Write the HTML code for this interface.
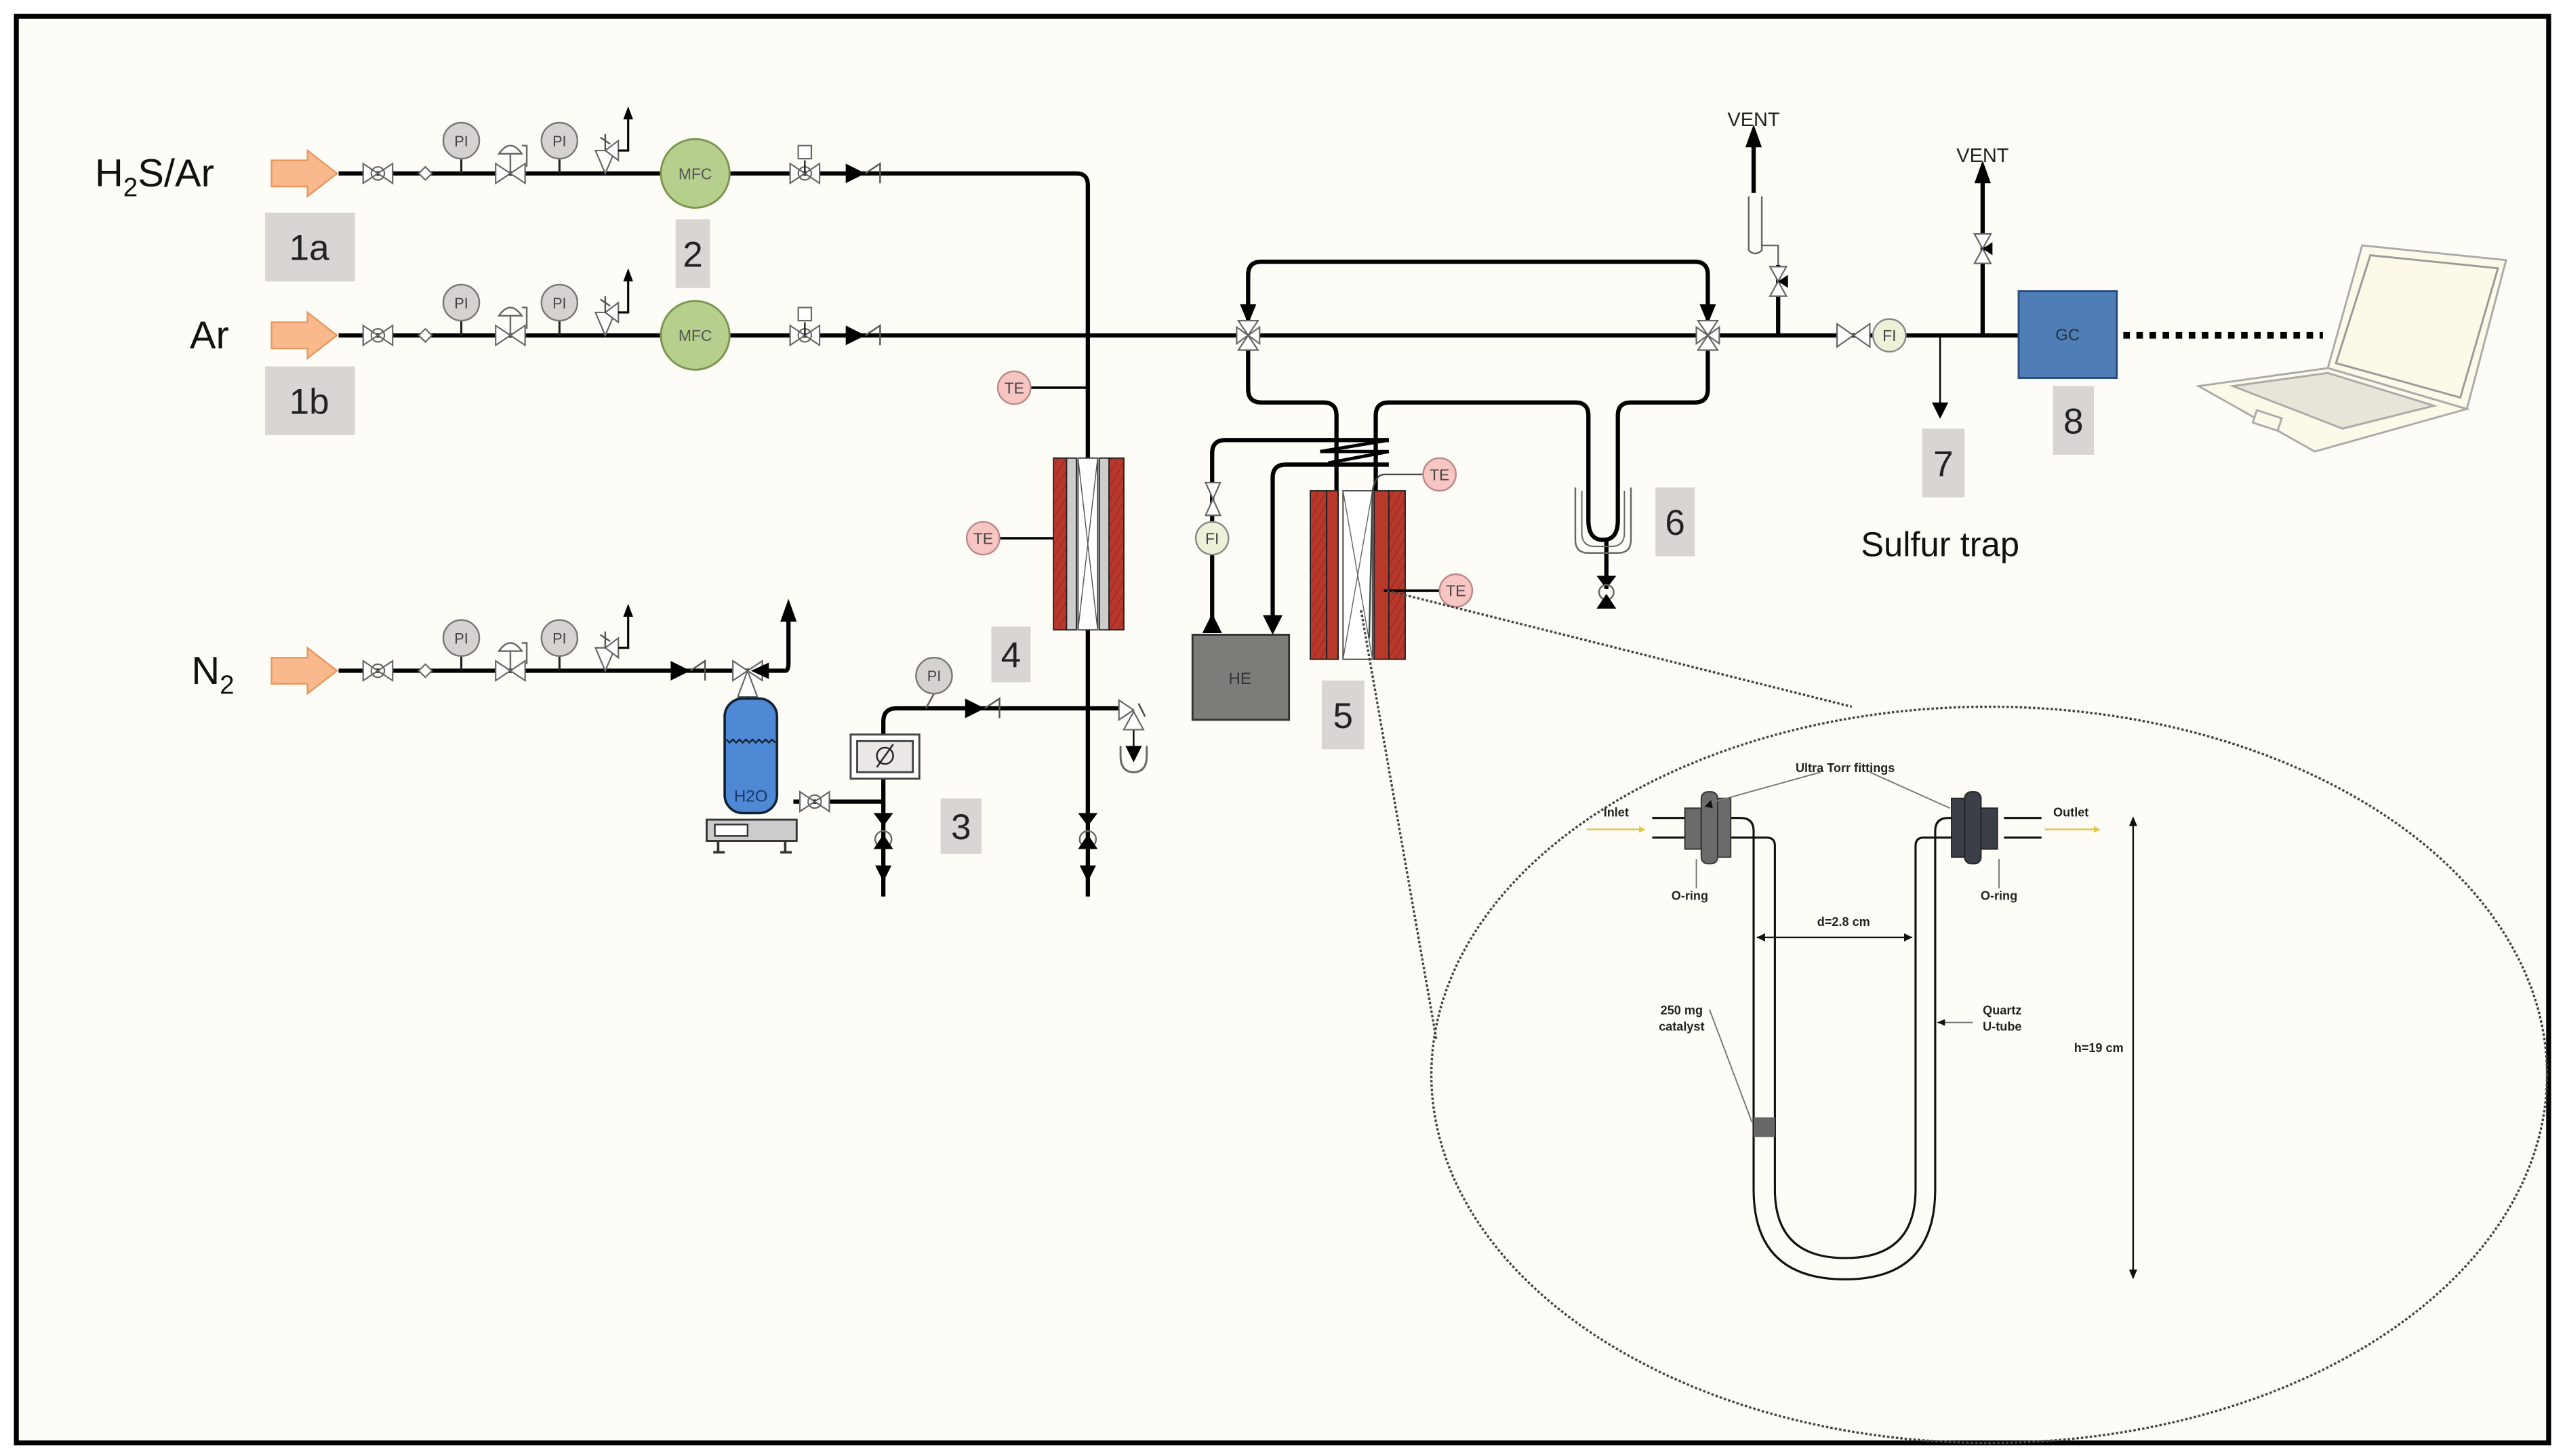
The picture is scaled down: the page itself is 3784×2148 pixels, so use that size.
<!DOCTYPE html>
<html><head><meta charset="utf-8"><style>
html,body{margin:0;padding:0;background:#fff}
svg{display:block}
text{font-family:"Liberation Sans",sans-serif}
</style></head><body>
<svg width="3784" height="2148" viewBox="0 0 1568 890" preserveAspectRatio="none" xmlns="http://www.w3.org/2000/svg">
<defs>
<g id="gv"><polygon points="-9,-6 9,6 9,-6 -9,6" fill="#fff" stroke="#666" stroke-width="0.9"/><circle r="4" fill="none" stroke="#666" stroke-width="0.9"/></g>
<g id="gvv"><polygon points="-6,-9 6,9 -6,9 6,-9" fill="#fff" stroke="#666" stroke-width="0.9"/></g>
<g id="chk"><polygon points="0,-6 12,0 0,6" fill="#000"/><path d="M12,0 L21,-6 V6" fill="none" stroke="#555" stroke-width="1"/></g>
<g id="dia"><polygon points="-4,0 0,-4 4,0 0,4" fill="#fff" stroke="#666" stroke-width="0.9"/></g>
<g id="pi"><line x1="0" y1="0" x2="0" y2="-9" stroke="#222" stroke-width="1.3"/><circle cy="-20" r="11" fill="#d6d2cf" stroke="#777" stroke-width="1"/><text y="-16.5" font-size="9" text-anchor="middle" fill="#444">PI</text></g>
<g id="reg"><polygon points="-9,-6 9,6 9,-6 -9,6" fill="#fff" stroke="#666" stroke-width="0.9"/><line x1="0" y1="0" x2="0" y2="-12" stroke="#666"/><path d="M-7,-12 Q0,-22 7,-12 Z" fill="#fff" stroke="#666"/><path d="M7,-17 H10 V-4" fill="none" stroke="#666"/></g>
<g id="rel"><polygon points="-6,-14 6,-14 0,0" fill="#fff" stroke="#666" stroke-width="0.9"/><polygon points="0,-14 8,-20 8,-8" fill="#fff" stroke="#666" stroke-width="0.9"/><path d="M-3,-22 L3,-18 M0,-24 V-14" stroke="#555"/><path d="M8,-14 H14 V-34" fill="none" stroke="#000" stroke-width="1.3"/><polygon points="11,-33 14,-41 17,-33" fill="#000"/></g>
<g id="orange"><polygon points="0,-8 22,-8 22,-14 40,0 22,14 22,8 0,8" fill="#f9b98c" stroke="#e8975e" stroke-width="1"/></g>
<g id="mfc"><circle r="21" fill="#b6cf8c" stroke="#7a9550" stroke-width="1.2"/><text y="3.5" font-size="9.5" text-anchor="middle" fill="#555">MFC</text></g>
<g id="av"><polygon points="-9,-6 9,6 9,-6 -9,6" fill="#fff" stroke="#666" stroke-width="0.9"/><circle r="4" fill="none" stroke="#666" stroke-width="0.9"/><line x1="0" y1="0" x2="0" y2="-8" stroke="#222"/><rect x="-4" y="-17" width="8" height="8" fill="#fff" stroke="#666" stroke-width="0.9"/></g>
<g id="tv"><polygon points="-6,-9 6,-9 0,0" fill="#fff" stroke="#666" stroke-width="0.9"/><polygon points="-6,9 6,9 0,0" fill="#fff" stroke="#666" stroke-width="0.9"/><polygon points="0,0 -7,-5 -7,5" fill="#fff" stroke="#666" stroke-width="0.9"/><polygon points="0,0 7,-5 7,5" fill="#fff" stroke="#666" stroke-width="0.9"/></g>
<g id="drain"><polygon points="-6,-16 6,-16 0,-8" fill="#000"/><circle r="5" fill="none" stroke="#666"/><polygon points="-6,6 6,6 0,-3" fill="#000"/><line x1="0" y1="0" x2="0" y2="24" stroke="#000" stroke-width="2"/><polygon points="-5,16 5,16 0,26" fill="#000"/></g>
<g id="te"><circle r="10" fill="#f7c6c3" stroke="#b88" stroke-width="1"/><text y="3.5" font-size="9.5" text-anchor="middle" fill="#444">TE</text></g>
<g id="fi"><circle r="10" fill="#eef0d8" stroke="#888" stroke-width="1"/><text y="3.5" font-size="9.5" text-anchor="middle" fill="#444">FI</text></g>
<g id="cv"><polygon points="-5,-9 5,-9 0,0" fill="#fff" stroke="#666" stroke-width="0.9"/><polygon points="-5,9 5,9 0,0" fill="#fff" stroke="#666" stroke-width="0.9"/><polygon points="0,0 6,-4 6,4" fill="#000"/></g>
<pattern id="hatch" width="4" height="4" patternUnits="userSpaceOnUse" patternTransform="rotate(30)"><rect width="4" height="4" fill="#b8392b"/><line x1="0" y1="0" x2="0" y2="4" stroke="#9a2c20" stroke-width="1.2"/></pattern>
</defs>
<rect width="1568" height="890" fill="#fff"/>
<rect x="10" y="10" width="1548" height="872" fill="#fdfcf6" stroke="#000" stroke-width="3"/>

<!-- main pipes -->
<g fill="none" stroke="#000" stroke-width="2.6">
<path d="M207,106 H658 Q665,106 665,113 V548"/>
<path d="M207,205 H1234"/>
<path d="M207,410 H470"/>
<path d="M470,410 H480 Q482,410 482,405 V378"/>
<path d="M763,205 V168 Q763,160 771,160 H1036 Q1044,160 1044,168 V205"/>
<path d="M763,205 V238 Q763,246 771,246 H809 Q817,246 817,254 V300"/>
<path d="M841,300 V254 Q841,246 849,246 H963 Q971,246 971,254 V318 Q971,330 980,330 Q989,330 989,318 V254 Q989,246 997,246 H1036 Q1044,246 1044,238 V205"/>
<path d="M982,330 V360"/>
<path d="M849,269 H749 Q741,269 741,277 V387"/>
<path d="M849,284 H786 Q778,284 778,292 V385"/>
<path d="M485,490 H540"/>
<path d="M540,476 V548"/>
<path d="M540,449 V441 Q540,433 548,433 H690"/>
<path d="M1072,88 V118"/>
<path d="M1087,162 V205"/>
<path d="M1212,110 V205"/>
</g>
<!-- heat exchanger coil zigzags -->
<g stroke="#000" stroke-width="2" fill="none">
<path d="M807,276 H849 M807,276 L849,269 M812,283 L849,276"/>
</g>
<!-- arrows -->
<g fill="#000">
<polygon points="758,186 768,186 763,198"/>
<polygon points="1039,186 1049,186 1044,198"/>
<polygon points="735,387 747,387 741,375"/>
<polygon points="772,376 784,376 778,388"/>
<polygon points="1067,90 1077,90 1072,76"/>
<polygon points="1207,112 1217,112 1212,98"/>
<polygon points="477,380 487,380 482,366"/>
<polygon points="1181,246 1191,246 1186,256"/>
<polygon points="688,456 698,456 693,466"/>
</g>
<path d="M1186,205 V248" stroke="#000" stroke-width="1"/>
<path d="M693,436 V458" stroke="#000" stroke-width="1"/>
<path d="M685,456 V462 Q685,472 693,472 Q701,472 701,462 V456" fill="none" stroke="#666" stroke-width="1.2"/>
<!-- vent U tube -->
<path d="M1069,120 V153 Q1073,157 1077,153 V120" fill="none" stroke="#666" stroke-width="1"/>
<path d="M1077,150 H1087 V162" fill="none" stroke="#666" stroke-width="1"/>

<!-- orange arrows -->
<use href="#orange" x="166" y="106"/><use href="#orange" x="166" y="205"/><use href="#orange" x="166" y="410"/>
<text x="58" y="114" font-size="24" fill="#111">H<tspan font-size="16" dy="6">2</tspan><tspan dy="-6">S/Ar</tspan></text>
<text x="116" y="213" font-size="24" fill="#111">Ar</text>
<text x="117" y="418" font-size="24" fill="#111">N<tspan font-size="16" dy="6">2</tspan></text>

<!-- line components -->
<g>
<use href="#gv" x="231" y="106"/><use href="#dia" x="260" y="106"/><use href="#pi" x="282" y="106"/><use href="#reg" x="312" y="106"/><use href="#pi" x="342" y="106"/><use href="#rel" x="370" y="106"/><use href="#mfc" x="425" y="106"/><use href="#av" x="492" y="106"/><use href="#chk" x="517" y="106"/>
<use href="#gv" x="231" y="205"/><use href="#dia" x="260" y="205"/><use href="#pi" x="282" y="205"/><use href="#reg" x="312" y="205"/><use href="#pi" x="342" y="205"/><use href="#rel" x="370" y="205"/><use href="#mfc" x="425" y="205"/><use href="#av" x="492" y="205"/><use href="#chk" x="517" y="205"/>
<use href="#gv" x="231" y="410"/><use href="#dia" x="260" y="410"/><use href="#pi" x="282" y="410"/><use href="#reg" x="312" y="410"/><use href="#pi" x="342" y="410"/><use href="#rel" x="370" y="410"/><use href="#chk" x="410" y="410"/>
<use href="#tv" x="763" y="205"/><use href="#tv" x="1044" y="205"/>
<use href="#cv" x="1087" y="172"/><use href="#cv" x="1212" y="152"/>
<use href="#drain" x="540" y="513"/><use href="#drain" x="665" y="513"/>
<use href="#chk" x="590" y="433"/>
</g>
<!-- N2 3-way valve -->
<polygon points="448,404 448,416 466,404 466,416" fill="#fff" stroke="#666" stroke-width="0.9"/>
<polygon points="451,426 463,426 457,410" fill="#fff" stroke="#666" stroke-width="0.9"/>
<polygon points="470,405 470,415 459,410" fill="#000"/>
<line x1="457" y1="426" x2="457" y2="432" stroke="#222" stroke-width="1.5"/>
<!-- relief at 4 line -->
<polygon points="684,428 684,440 693,434" fill="#fff" stroke="#666" stroke-width="0.9"/>
<polygon points="687,446 699,446 693,435" fill="#fff" stroke="#666" stroke-width="0.9"/>
<path d="M696,430 L700,438" stroke="#444"/>
<!-- PI on 4 line -->
<line x1="566" y1="433" x2="571" y2="424" stroke="#555"/>
<circle cx="571" cy="413" r="11" fill="#d6d2cf" stroke="#777"/><text x="571" y="416.5" font-size="9" text-anchor="middle" fill="#444">PI</text>

<!-- H2O vessel -->
<rect x="443" y="427" width="32" height="70" rx="11" fill="#4f88d4" stroke="#123" stroke-width="1.5"/>
<path d="M444,452 l2,2 l2,-2 l2,2 l2,-2 l2,2 l2,-2 l2,2 l2,-2 l2,2 l2,-2 l2,2 l2,-2 l2,2 l2,-2 l2,2" fill="none" stroke="#123" stroke-width="1"/>
<text x="459" y="490" font-size="10" text-anchor="middle" fill="#1a3866">H2O</text>
<rect x="432" y="501" width="55" height="13" fill="#ccc" stroke="#333" stroke-width="1.2"/>
<rect x="437" y="504" width="20" height="7" fill="#fff" stroke="#333"/>
<path d="M439,514 V521 M480,514 V521 M436,521 H443 M477,521 H484" stroke="#333" stroke-width="1.5"/>
<use href="#gv" x="498" y="490"/>
<!-- instrument box -->
<rect x="520" y="449" width="42" height="27" fill="#fff" stroke="#444" stroke-width="1.2"/>
<rect x="524" y="453" width="34" height="19" fill="#ece8e8" stroke="#444" stroke-width="1.2"/>
<circle cx="541" cy="462" r="5" fill="none" stroke="#222"/><line x1="536" y1="469" x2="546" y2="455" stroke="#222"/>

<!-- reactor 4 -->
<rect x="644" y="280" width="8" height="105" fill="url(#hatch)" stroke="#222" stroke-width="0.8"/>
<rect x="652" y="280" width="6" height="105" fill="#ccc" stroke="#222" stroke-width="0.8"/>
<rect x="659" y="280" width="12" height="105" fill="#fff" stroke="#444" stroke-width="0.8"/>
<path d="M659,280 L671,385 M671,280 L659,385" stroke="#555" stroke-width="0.6"/>
<rect x="672" y="280" width="6" height="105" fill="#ccc" stroke="#222" stroke-width="0.8"/>
<rect x="678" y="280" width="9" height="105" fill="url(#hatch)" stroke="#222" stroke-width="0.8"/>
<line x1="630" y1="237" x2="665" y2="237" stroke="#000" stroke-width="1.5"/><use href="#te" x="620" y="237"/>
<line x1="611" y1="329" x2="644" y2="329" stroke="#000" stroke-width="1.5"/><use href="#te" x="601" y="329"/>

<!-- reactor 5 -->
<rect x="801" y="300" width="10" height="103" fill="url(#hatch)" stroke="#222" stroke-width="0.8"/>
<rect x="811" y="300" width="7" height="103" fill="#b8392b" stroke="#222" stroke-width="0.8"/>
<rect x="821" y="300" width="18" height="103" fill="#fff" stroke="#444" stroke-width="0.8"/>
<path d="M821,300 L839,403 M839,300 L821,403" stroke="#666" stroke-width="0.6"/>
<rect x="840" y="300" width="9" height="103" fill="#b8392b" stroke="#222" stroke-width="0.8"/>
<rect x="849" y="300" width="10" height="103" fill="url(#hatch)" stroke="#222" stroke-width="0.8"/>
<path d="M870,290 H846 Q841,290 839,300 L837,390" fill="none" stroke="#444" stroke-width="1"/>
<use href="#te" x="880" y="290"/>
<line x1="846" y1="361" x2="880" y2="361" stroke="#000" stroke-width="1.5"/><use href="#te" x="890" y="361"/>
<!-- FI/HE -->
<polygon points="737,295 746,295 741.5,305 746,315 737,315 741.5,305" fill="#fff" stroke="#666" stroke-width="0.9"/>
<use href="#fi" x="741" y="329"/>
<rect x="729" y="388" width="59" height="52" fill="#7d7c78" stroke="#333" stroke-width="1.2"/>
<text x="758" y="418" font-size="10" text-anchor="middle" fill="#333">HE</text>
<!-- trap cup -->
<path d="M963,298 V330 Q963,338 971,338 H989 Q997,338 997,330 V298" fill="none" stroke="#666" stroke-width="1"/>
<path d="M967,300 V326 Q967,334 975,334 H985 Q993,334 993,326 V300" fill="none" stroke="#666" stroke-width="0.8"/>
<polygon points="976,352 988,352 982,360" fill="#000"/><circle cx="982" cy="362" r="4.5" fill="none" stroke="#666"/><polygon points="976,372 988,372 982,363" fill="#000"/>

<!-- FI & valve right -->
<polygon points="1123,198 1123,212 1143,198 1143,212" fill="#fff" stroke="#666" stroke-width="0.9"/>
<use href="#fi" x="1155" y="205"/>
<text x="1072" y="77" font-size="12" text-anchor="middle" fill="#222">VENT</text>
<text x="1212" y="99" font-size="12" text-anchor="middle" fill="#222">VENT</text>
<rect x="1234" y="178" width="60" height="53" fill="#4f7db5" stroke="#2a4d7a" stroke-width="1.2"/>
<text x="1264" y="208" font-size="10" text-anchor="middle" fill="#233">GC</text>
<line x1="1298" y1="205" x2="1420" y2="205" stroke="#000" stroke-width="4" stroke-dasharray="4 4"/>
<!-- laptop -->
<g fill="#fdf9e8" stroke="#aaa" stroke-width="1.2">
<polygon points="1444,150 1532,159 1508,250 1423,225"/>
<polygon points="1449,156 1527,164 1504,243 1428,222" stroke="#999"/>
<polygon points="1344,236 1423,225 1508,250 1415,276"/>
<polygon points="1365,236 1423,228 1488,248 1432,262" fill="#e8e4d8"/>
<rect x="1378" y="253" width="16" height="8" transform="rotate(18 1386 257)"/>
</g>

<!-- label boxes -->
<g fill="#d9d5d2">
<rect x="162" y="130" width="55" height="42"/><rect x="413" y="134" width="21" height="42"/>
<rect x="162" y="224" width="55" height="42"/><rect x="606" y="383" width="24" height="34"/>
<rect x="575" y="488" width="25" height="34"/><rect x="808" y="416" width="26" height="42"/>
<rect x="1012" y="298" width="24" height="42"/><rect x="1175" y="262" width="26" height="42"/>
<rect x="1255" y="236" width="25" height="42"/>
</g>
<g font-size="22" fill="#222" text-anchor="middle">
<text x="189" y="159">1a</text><text x="423.5" y="163">2</text><text x="189" y="253">1b</text>
<text x="618" y="408">4</text><text x="587.5" y="513">3</text><text x="821" y="445">5</text>
<text x="1024" y="327">6</text><text x="1188" y="291">7</text><text x="1267.5" y="265">8</text>
</g>
<text x="1186" y="340" font-size="21" text-anchor="middle" fill="#111">Sulfur trap</text>

<!-- zoom ellipse -->
<g fill="none" stroke="#444" stroke-width="1.4" stroke-dasharray="1.5 1.2">
<ellipse cx="1216" cy="657" rx="341" ry="225"/>
<line x1="832" y1="373" x2="878" y2="635"/>
<line x1="848" y1="361" x2="1132" y2="432"/>
</g>
<!-- U tube -->
<g fill="none" stroke="#111" stroke-width="1.3">
<path d="M1046,500 H1064 Q1072,500 1072,508 V727 Q1072,782 1128,782 Q1183,782 1183,727 V508 Q1183,500 1191,500 H1212"/>
<path d="M1046,512 H1080 Q1085,512 1085,517 V727 Q1085,769 1128,769 Q1171,769 1171,727 V517 Q1171,512 1176,512 H1212"/>
<path d="M1225,500 H1248 M1225,512 H1248"/>
<path d="M1010,500 H1030 M1010,512 H1030"/>
</g>
<rect x="1072" y="683" width="13" height="12" fill="#666"/>
<!-- fittings -->
<g fill="#6b6b6b" stroke="#333" stroke-width="0.8">
<rect x="1030" y="494" width="10" height="25"/><rect x="1040" y="484" width="10" height="44" rx="4"/><rect x="1050" y="488" width="8" height="36"/>
</g>
<g fill="#3b3f47" stroke="#222" stroke-width="0.8">
<rect x="1193" y="488" width="8" height="36"/><rect x="1201" y="484" width="10" height="44" rx="4"/><rect x="1211" y="494" width="10" height="25"/>
</g>
<g stroke="#777" stroke-width="0.8" fill="none">
<path d="M1113,472 L1041,492 M1143,472 L1192,494"/>
<path d="M1037,543 V525 M1222,543 V525"/>
<path d="M1045,617 L1071,686"/>
<path d="M1206,625 H1186"/>
</g>
<g stroke="#111" stroke-width="1"><path d="M1074,573 H1169"/><path d="M1304,500 V781"/></g>
<g fill="#111"><polygon points="1074,573 1079,570.5 1079,575.5"/><polygon points="1169,573 1164,570.5 1164,575.5"/><polygon points="1304,499 1301.5,505 1306.5,505"/><polygon points="1304,782 1301.5,776 1306.5,776"/><polygon points="1184,625 1189,623 1189,627"/><polygon points="1042,493 1046,489 1047,494"/></g>
<g stroke="#e8c440" stroke-width="1"><line x1="970" y1="507" x2="1005" y2="507"/><line x1="1250" y1="507" x2="1282" y2="507"/></g>
<g fill="#e8c440"><polygon points="1006,507 1002,505 1002,509"/><polygon points="1284,507 1280,505 1280,509"/></g>
<g font-size="7.5" font-weight="bold" fill="#222" text-anchor="middle">
<text x="1128" y="472">Ultra Torr fittings</text>
<text x="988" y="499">Inlet</text><text x="1266" y="499">Outlet</text>
<text x="1033" y="550">O-ring</text><text x="1222" y="550">O-ring</text>
<text x="1127" y="566">d=2.8 cm</text><text x="1283" y="643">h=19 cm</text>
<text x="1028" y="620">250 mg</text><text x="1028" y="630">catalyst</text>
<text x="1224" y="620">Quartz</text><text x="1224" y="630">U-tube</text>
</g>
</svg>
</body></html>
